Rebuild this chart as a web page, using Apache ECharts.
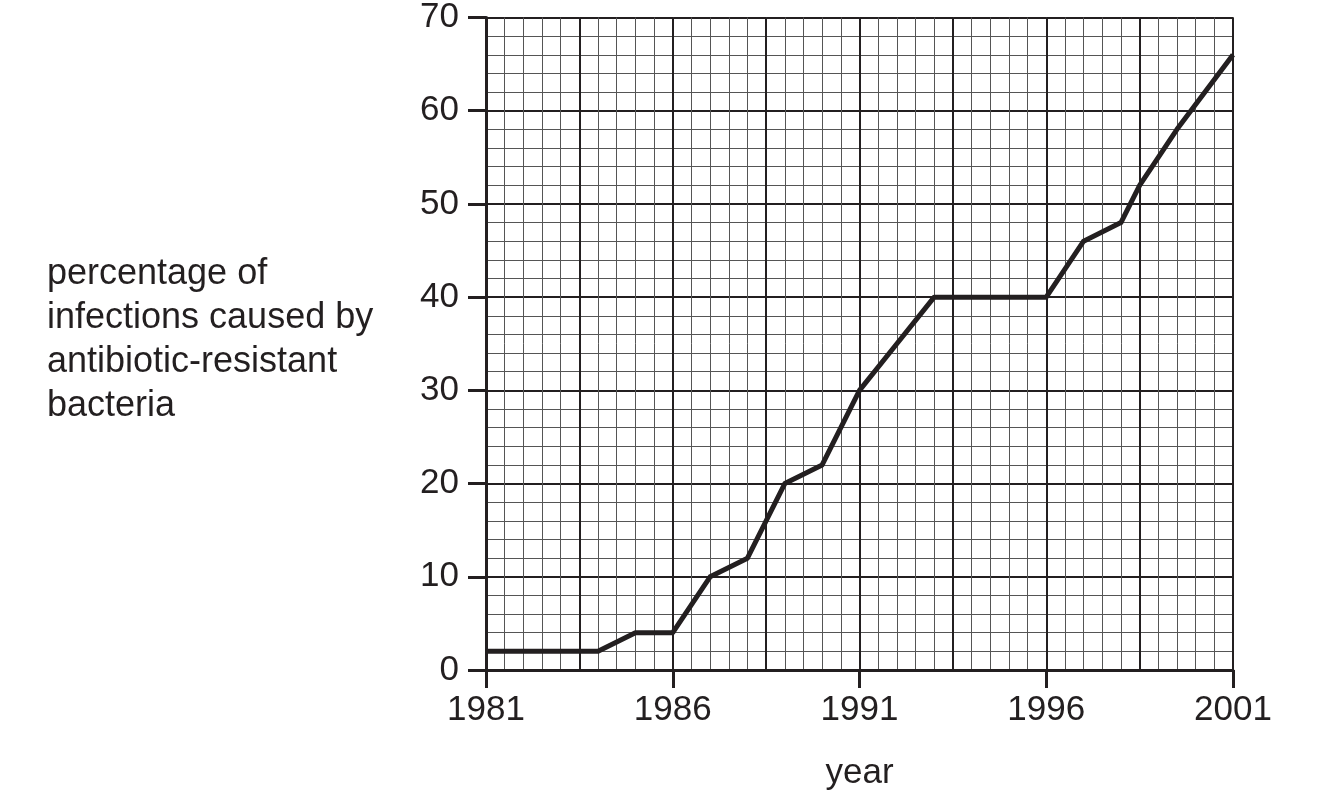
<!DOCTYPE html>
<html><head><meta charset="utf-8">
<script src="https://cdn.jsdelivr.net/npm/echarts@6/dist/echarts.min.js"></script>
<style>html,body{margin:0;padding:0;background:#fff}#c{width:1324px;height:804px}</style>
</head><body><div id="c"></div>
<script>
// ---- data ----
const years = [1981, 1982, 1983, 1984, 1985, 1986, 1987, 1988, 1989, 1990, 1991, 1992, 1993, 1994, 1995, 1996, 1997, 1998, 1998.5, 1999.5, 2001];
const percentages = [2, 2, 2, 2, 4, 4, 10, 12, 20, 22, 30, 35, 40, 40, 40, 40, 46, 48, 52, 58, 66];
const xTickLabels = [1981, 1986, 1991, 1996, 2001];
const yTickLabels = [0, 10, 20, 30, 40, 50, 60, 70];
const yTitleLines = ['percentage of', 'infections caused by', 'antibiotic-resistant', 'bacteria'];
const xTitle = 'year';

// ---- styles ----
const INK = '#231f20';
const FONT = '"Liberation Sans", Arial, Helvetica, sans-serif';
const FS = 35;

const xMin = xTickLabels[0], xMax = xTickLabels[xTickLabels.length - 1];
const xStep = xTickLabels[1] - xTickLabels[0];
const yMin = yTickLabels[0], yMax = yTickLabels[yTickLabels.length - 1];
const yStep = yTickLabels[1] - yTickLabels[0];

function gridAxis(min, max, interval, color, width, pos) {
  return {
    type: 'value', min: min, max: max, interval: interval, position: pos,
    axisLine: { show: false }, axisTick: { show: false }, axisLabel: { show: false },
    splitLine: { show: true, lineStyle: { color: color, width: width } }
  };
}

const chart = echarts.init(document.getElementById('c'), null, { renderer: 'canvas' });
chart.setOption({
  animation: false,
  backgroundColor: '#ffffff',
  grid: { left: 486, right: 91, top: 16, bottom: 134, containLabel: false },
  xAxis: [
    gridAxis(xMin, xMax, xStep / 10, '#555555', 1, 'bottom'),
    gridAxis(xMin, xMax, xStep / 2, INK, 2, 'bottom'),
    {
      type: 'value', min: xMin, max: xMax, interval: xStep, position: 'bottom',
      axisLine: { show: true, onZero: false, lineStyle: { color: INK, width: 3 } },
      axisTick: { show: true, inside: false, length: 18, lineStyle: { color: INK, width: 3 } },
      axisLabel: { show: true, margin: 23, color: INK, fontSize: FS, fontFamily: FONT, lineHeight: FS,
        formatter: v => String(v) },
      splitLine: { show: false }
    }
  ],
  yAxis: [
    gridAxis(yMin, yMax, yStep / 5, '#555555', 1, 'left'),
    gridAxis(yMin, yMax, yStep, INK, 2, 'left'),
    {
      type: 'value', min: yMin, max: yMax, interval: yStep, position: 'left',
      axisLine: { show: true, onZero: false, lineStyle: { color: INK, width: 3 } },
      axisTick: { show: true, inside: false, length: 18, lineStyle: { color: INK, width: 3 } },
      axisLabel: { show: true, margin: 27, color: INK, fontSize: FS, fontFamily: FONT,
        formatter: v => String(v) },
      splitLine: { show: false }
    }
  ],
  graphic: [
    { type: 'text', x: 47, y: 340, style: { text: yTitleLines.join('\n'), fill: INK, fontSize: 36,
      fontFamily: FONT, lineHeight: 44, align: 'left', verticalAlign: 'middle' } },
    { type: 'text', x: 859.5, y: 773, style: { text: xTitle, fill: INK, fontSize: FS,
      fontFamily: FONT, align: 'center', verticalAlign: 'middle' } }
  ],
  series: [{
    type: 'line', xAxisIndex: 2, yAxisIndex: 2,
    data: years.map((yr, i) => [yr, percentages[i]]),
    symbol: 'none', clip: false, z: 10,
    lineStyle: { color: INK, width: 5, join: 'round', cap: 'butt' }
  }]
});
</script>
</body></html>
